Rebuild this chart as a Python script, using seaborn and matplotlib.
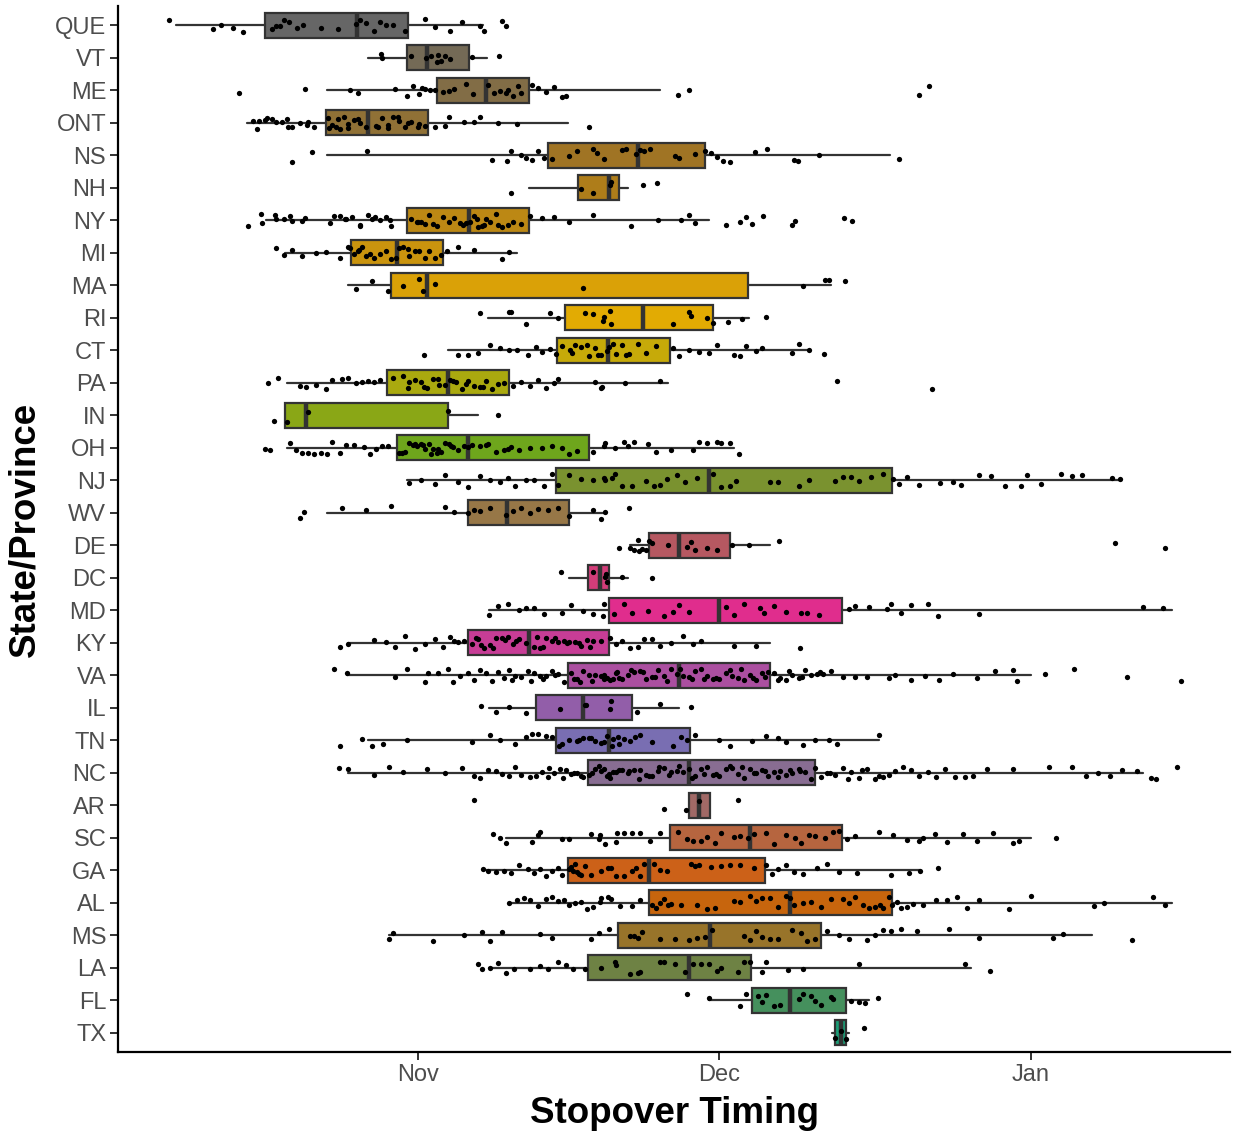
import numpy as np
import pandas as pd
import matplotlib
matplotlib.use("Agg")
import matplotlib.pyplot as plt
from matplotlib.colors import LinearSegmentedColormap
import seaborn as sns

# ---------------- data (days relative to 1 Nov) ----------------
STATES = ["QUE", "VT", "ME", "ONT", "NS", "NH", "NY", "MI", "MA", "RI", "CT", "PA",
          "IN", "OH", "NJ", "WV", "DE", "DC", "MD", "KY", "VA", "IL", "TN", "NC",
          "AR", "SC", "GA", "AL", "MS", "LA", "FL", "TX"]

WHISKER_LOW = [-24.1, -5.0, -9.1, -17.0, -9.1, 11.0, -15.1, -13.2, -7.0, 7.0, 3.0, -13.0,
               -13.2, -13.0, -1.1, -9.1, 21.1, 15.0, 7.1, -7.0, -7.1, 7.1, -5.0, -7.0,
               27.0, 8.8, 6.8, 9.1, -2.9, 7.1, 29.0, 41.2]
Q1 = [-15.2, -1.1, 1.9, -9.2, 12.9, 15.9, -1.1, -6.7, -2.7, 14.6, 13.8, -3.1,
      -13.2, -2.1, 13.7, 5.0, 23.0, 16.9, 19.0, 5.0, 14.9, 11.7, 13.7, 16.9,
      27.0, 25.1, 14.9, 23.0, 19.9, 16.9, 33.2, 41.5]
MEDIAN = [-6.1, 0.9, 6.8, -5.0, 21.9, 19.0, 5.1, -2.1, 0.9, 22.4, 18.9, 3.0,
          -11.1, 5.0, 29.0, 8.9, 26.0, 18.1, 30.0, 11.0, 26.0, 16.4, 19.0, 27.0,
          28.0, 33.0, 23.0, 37.0, 29.1, 27.0, 37.0, 42.1]
Q3 = [-1.0, 5.1, 11.0, 1.0, 28.6, 20.0, 11.0, 2.5, 32.8, 29.4, 25.1, 9.1,
      3.0, 17.0, 47.2, 15.0, 31.0, 19.0, 42.2, 19.0, 35.0, 21.3, 27.1, 39.5,
      29.1, 42.2, 34.5, 47.2, 40.1, 33.1, 42.6, 42.6]
WHISKER_HIGH = [6.5, 6.9, 24.1, 14.9, 47.0, 20.9, 29.0, 9.9, 41.1, 32.9, 39.0, 24.9,
                6.0, 31.4, 69.9, 18.6, 35.0, 20.9, 75.0, 35.0, 61.0, 26.0, 45.9, 72.1,
                29.1, 61.0, 50.0, 75.0, 67.1, 55.0, 44.9, 42.9]

QUE = [-24.8, -20.4, -19.6, -18.4, -17.4, -14.1, -13.7, -13.3, -12.8, -11.4, -9.7, -8.0, -6.2,
       -5.8, -5.2, -4.4, -3.8, -3.2, -1.3, 0.7, 1.7, 3.2, 4.4, 6.2, 6.6, 8.4, 8.8, -14.5, -12.0, -2.5]
VT = [-3.7, -3.6, -0.7, 0.8, 1.3, 1.9, 2.3, 2.7, 3.2, 2.0, 5.4, 8.1]
ME = [-17.8, -11.2, -6.8, -6.0, -2.3, -1.1, -0.5, 0.1, 0.7, 1.7, 2.5, 3.1, 3.6, 4.8, 7.0, 7.6, 8.2,
      8.8, 9.5, 10.3, 11.3, 11.9, 12.7, 13.5, 14.3, 14.7, 25.9, 27.0, 49.9, 50.8, 0.4, 1.2, 5.5, 9.0, 10.0]
ONT = [-16.4, -15.8, -15.2, -14.5, -14.1, -13.5, -12.9, -12.5, -11.7, -10.9, -10.3, -8.9, -8.6, -8.2,
       -7.8, -7.4, -7.0, -6.4, -5.8, -5.2, -4.2, -3.6, -3.0, -2.5, -1.9, -1.3, -0.7, 0.1, 0.7, 1.7,
       2.7, 3.1, 4.6, 5.6, 6.2, 8.0, 9.9, 17.0, -16.0, -15.0, -13.0, -11.0, -9.0, -8.0, -7.0, -6.0,
       -4.0, -3.0, -2.0, -1.0, 0.0]
NS = [-12.5, -10.5, -5.1, 7.4, 8.9, 9.3, 10.3, 10.7, 11.3, 11.9, 12.5, 13.3, 15.0, 15.8, 17.4, 17.8,
      18.5, 20.3, 20.7, 21.7, 22.1, 22.5, 23.1, 25.6, 26.0, 27.6, 28.6, 29.2, 29.8, 30.4, 31.0, 33.5,
      34.7, 37.4, 37.8, 39.9, 47.9]
NH = [9.3, 16.2, 17.4, 19.2, 19.1, 22.4, 23.8]
NY = [-16.9, -15.6, -15.5, -14.2, -14.1, -13.3, -12.7, -12.5, -11.5, -11.2, -8.8, -8.4, -7.8, -7.3,
      -7.2, -6.6, -5.8, -5.8, -5.0, -4.6, -4.3, -3.8, -3.2, -2.8, -2.7, -0.7, -0.1, 0.3, 0.7, 1.1, 1.5,
      1.9, 3.1, 3.6, 4.2, 4.8, 5.2, 5.6, 6.0, 6.4, 6.8, 7.2, 7.8, 8.4, 9.0, 9.5, 10.3, 11.1, 12.3, 13.5,
      15.0, 17.4, 21.2, 23.9, 26.2, 27.0, 27.6, 30.6, 32.0, 32.6, 33.2, 34.3, 37.2, 37.5, 42.4, 43.2,
      0.0, 2.5, 4.5, 5.9, 6.6, 8.0]
MI = [-14.1, -13.3, -12.5, -11.5, -10.1, -9.2, -7.8, -7.0, -6.4, -6.0, -5.6, -5.2, -4.8, -4.4, -3.8,
      -3.2, -2.7, -1.9, -1.5, -0.9, -0.3, 0.1, 0.7, 1.1, 1.7, 2.3, 2.9, 4.0, 5.6, 8.4, 9.1, -6.8, -5.9,
      -2.2, -1.0]
MA = [-6.2, -4.6, -3.0, -1.5, 0.1, 0.5, 1.7, 16.4, 38.3, 40.5, 40.9, 42.5]
RI = [6.2, 9.1, 9.3, 10.7, 13.1, 13.9, 16.6, 17.4, 18.4, 19.2, 18.5, 19.1, 25.4, 27.0, 27.2, 28.8,
      29.4, 30.8, 32.2, 34.6]
CT = [0.6, 4.0, 5.0, 6.0, 7.2, 8.2, 9.1, 9.9, 10.9, 11.7, 12.3, 13.1, 13.7, 14.3, 15.1, 15.6, 16.2,
      17.0, 17.6, 18.2, 18.8, 19.4, 19.7, 20.3, 20.7, 21.9, 22.7, 23.7, 25.4, 26.0, 27.0, 28.0, 29.0,
      29.8, 31.4, 32.0, 32.6, 33.6, 34.2, 37.2, 37.9, 38.9, 40.4, 15.3, 16.8, 17.9, 19.0, 21.0]
PA = [-14.9, -13.9, -11.7, -11.1, -10.1, -9.2, -8.6, -7.6, -7.0, -6.2, -5.6, -5.0, -4.4, -3.8, -1.5,
      -0.9, -0.3, 0.3, 0.9, 1.5, 2.1, 2.7, 3.2, 3.8, 4.4, 5.0, 5.6, 6.2, 6.8, 7.4, 8.0, 8.6, 9.5, 10.3,
      11.1, 11.9, 12.7, 13.5, 13.9, 17.6, 18.2, 18.3, 20.6, 24.1, 41.7, 51.1, -2.5, -1.0, 0.6, 2.0, 3.5,
      4.8, 6.5]
IN = [-14.3, -13.0, -10.9, 3.0, 8.0]
OH = [-15.2, -14.7, -12.7, -12.1, -11.5, -10.9, -10.3, -9.7, -9.1, -8.6, -7.8, -7.2, -6.4, -5.4, -4.8,
      -4.2, -3.6, -3.0, -1.9, -1.3, -0.9, -0.5, -0.1, 0.3, 0.7, 1.1, 1.5, 1.9, 2.3, 2.7, 3.1, 3.5, 4.0,
      4.6, 5.4, 6.2, 7.0, 7.8, 8.6, 9.3, 10.1, 11.1, 12.3, 13.3, 14.3, 15.0, 15.8, 17.4, 18.6, 19.6,
      18.5, 20.5, 20.9, 21.5, 22.9, 23.7, 25.2, 27.4, 28.0, 28.8, 29.8, 30.2, 31.0, 31.9, -1.6, -0.3,
      0.5, 1.3, 2.0, 3.3, 5.0, 6.8, 9.0]
NJ = [-0.9, 0.3, 1.7, 2.7, 4.0, 5.0, 6.2, 7.2, 8.2, 9.0, 9.7, 10.7, 11.5, 12.5, 13.3, 13.9, 15.0,
      16.2, 17.4, 18.6, 19.6, 18.5, 19.3, 20.3, 21.3, 22.7, 23.5, 24.1, 24.8, 25.8, 26.6, 27.8, 29.4,
      30.2, 31.0, 31.6, 35.0, 35.8, 37.9, 38.9, 41.5, 42.3, 43.1, 43.9, 45.1, 46.3, 47.3, 47.9, 48.7,
      49.9, 51.9, 53.2, 54.0, 55.8, 57.0, 58.4, 60.0, 60.6, 62.0, 64.0, 65.1, 66.1, 69.1, 69.9]
WV = [-11.7, -11.3, -7.6, -5.2, -2.7, 2.7, 3.6, 5.0, 5.6, 6.2, 7.2, 8.8, 9.5, 10.3, 11.1, 11.9, 12.9,
      13.9, 15.0, 17.4, 18.2, 18.6, 21.0]
DE = [20.0, 21.1, 21.5, 21.9, 22.3, 22.7, 23.3, 24.9, 26.8, 27.2, 27.6, 28.8, 29.8, 31.2, 32.9, 35.9,
      69.4, 74.3, 22.0, 23.0]
DC = [14.2, 17.4, 18.6, 18.8, 18.7, 20.3, 23.3]
MD = [7.1, 8.0, 9.0, 10.1, 10.7, 11.5, 12.5, 14.3, 15.2, 16.4, 17.4, 18.4, 18.5, 19.5, 20.5, 21.3,
      22.9, 24.5, 25.4, 26.0, 27.0, 30.6, 31.4, 32.4, 34.0, 34.4, 35.4, 36.6, 38.1, 38.7, 39.9, 42.9,
      43.5, 44.9, 46.7, 47.1, 48.1, 49.1, 50.7, 51.7, 55.8, 72.1, 74.1]
KY = [-7.8, -7.0, -4.4, -3.2, -2.3, -1.3, -0.3, 0.7, 1.7, 2.5, 3.2, 4.0, 5.4, 6.0, 6.6, 7.2, 7.8, 8.4,
      9.0, 9.5, 10.1, 10.7, 11.5, 12.1, 12.7, 13.3, 13.9, 14.5, 15.0, 15.6, 16.2, 16.8, 17.4, 18.2,
      19.1, 19.7, 20.3, 21.1, 21.9, 22.5, 23.3, 24.1, 25.2, 26.4, 27.4, 28.2, 31.4, 33.6, 38.0, 6.3,
      7.5, 8.7, 9.8, 11.8, 12.4, 13.6, 14.8, 16.0, 17.1, 4.6, 5.8, 3.6]
VA = [-8.4, -7.1, -2.3, -1.1, 0.7, 4.2, 5.0, 5.6, 6.2, 6.8, 7.4, 8.0, 8.6, 9.1, 9.7, 10.3, 10.9, 11.5,
      12.1, 12.7, 13.3, 13.9, 14.5, 15.2, 15.8, 16.4, 17.0, 17.6, 18.2, 18.8, 19.4, 20.0, 18.5, 19.1,
      19.7, 20.3, 20.9, 21.5, 22.1, 22.7, 23.3, 23.9, 24.5, 25.2, 25.8, 26.4, 27.0, 27.6, 28.2, 28.8,
      29.4, 30.0, 30.6, 31.2, 31.8, 32.4, 33.0, 33.6, 34.2, 34.8, 35.4, 36.0, 36.6, 37.2, 37.9, 38.5,
      39.1, 39.7, 40.3, 41.1, 42.3, 43.5, 44.7, 46.9, 47.5, 49.1, 50.5, 51.8, 53.2, 55.6, 57.4, 59.2,
      59.6, 62.4, 65.3, 70.6, 75.9, 15.5, 16.1, 17.3, 18.5, 19.8, 21.2, 22.4, 23.6, 24.8, 26.1, 27.3,
      28.5, 29.7, 31.0, 32.1, 33.3, 34.5, 1.0, 2.0, 3.0, 3.5, 9.4, 11.2, 12.4, 13.6, 35.8, 36.9, 38.2,
      40.0]
IL = [6.3, 7.8, 9.1, 10.7, 14.1, 16.6, 16.7, 19.2, 19.1, 21.8, 24.1, 27.2]
TN = [-7.8, -5.6, -4.6, -3.5, -1.1, 5.4, 7.2, 8.2, 9.7, 10.7, 11.3, 11.9, 12.7, 13.3, 14.3, 15.0,
      15.8, 16.4, 17.0, 17.6, 18.2, 18.8, 19.4, 18.5, 19.3, 19.9, 20.5, 21.1, 22.1, 23.3, 25.4, 26.2,
      26.8, 27.6, 30.0, 31.0, 33.2, 34.6, 35.8, 36.6, 38.3, 39.5, 40.9, 41.7, 45.9, 14.0, 16.0, 17.2,
      20.0, 21.6]
NC = [-7.9, -7.0, -4.4, -2.9, -1.5, 0.9, 2.7, 4.4, 5.6, 6.2, 7.0, 7.8, 8.4, 9.1, 9.7, 10.3, 11.1,
      11.7, 12.3, 12.9, 13.5, 14.1, 14.7, 15.2, 15.8, 16.4, 17.0, 17.6, 18.2, 18.8, 19.4, 18.5, 19.1,
      19.7, 20.3, 20.9, 21.5, 22.1, 22.7, 23.3, 23.9, 24.5, 25.2, 25.8, 26.4, 27.0, 27.6, 28.2, 28.8,
      29.4, 30.0, 30.6, 31.2, 31.8, 32.4, 33.0, 33.6, 34.2, 34.8, 35.4, 36.0, 36.6, 37.2, 37.9, 38.5,
      39.1, 40.1, 40.7, 41.5, 42.3, 43.1, 43.9, 44.7, 45.5, 46.3, 46.9, 47.5, 48.3, 49.1, 49.9, 50.7,
      51.5, 52.4, 53.4, 54.4, 55.2, 56.6, 59.2, 62.8, 65.1, 66.5, 67.7, 68.9, 70.1, 71.5, 72.9, 73.4,
      75.5, 16.2, 17.3, 18.0, 19.0, 20.0, 21.0, 22.0, 23.0, 24.0, 25.0, 26.0, 27.3, 28.5, 29.7, 31.0,
      32.2, 33.4, 34.5, 35.8, 37.0, 38.0, 39.5, 41.0, 42.8, 44.2, 45.9, 13.0, 14.4, 15.5]
AR = [5.6, 24.5, 26.7, 28.0, 31.8]
SC = [7.5, 8.2, 8.8, 11.3, 11.9, 12.1, 14.3, 15.0, 17.2, 18.0, 18.6, 19.8, 18.1, 19.7, 20.5, 21.3,
      22.1, 23.1, 24.1, 25.9, 26.8, 27.4, 28.2, 28.8, 29.6, 30.2, 31.4, 32.0, 32.8, 33.4, 34.6, 35.4,
      36.6, 37.5, 38.1, 38.9, 39.5, 40.5, 41.3, 41.9, 42.7, 43.5, 45.9, 47.3, 48.7, 49.9, 50.3, 51.4,
      52.6, 54.2, 55.6, 57.2, 59.2, 59.8, 63.5]
GA = [6.5, 7.0, 7.8, 8.6, 9.3, 10.1, 10.9, 11.5, 12.1, 12.7, 13.3, 13.9, 14.3, 15.0, 15.4, 15.8, 16.2,
      16.6, 17.2, 18.2, 19.2, 18.9, 19.7, 20.5, 21.3, 21.7, 22.1, 22.5, 23.5, 24.1, 24.8, 27.2, 27.6,
      28.0, 29.2, 30.2, 31.0, 32.0, 33.4, 34.6, 35.2, 35.8, 36.6, 37.4, 38.3, 39.7, 40.7, 41.9, 43.7,
      47.1, 48.9, 50.0, 51.7, 15.2, 15.6, 16.0]
AL = [9.1, 9.9, 10.5, 11.1, 11.9, 12.7, 13.3, 13.9, 14.5, 15.0, 15.6, 16.2, 16.8, 17.4, 18.2, 19.2,
      18.1, 18.9, 20.1, 21.3, 22.1, 23.7, 24.1, 24.5, 25.2, 26.2, 27.8, 28.8, 29.6, 31.4, 32.0, 33.0,
      33.6, 34.2, 35.0, 35.8, 36.6, 37.0, 37.4, 38.3, 39.1, 40.1, 41.1, 42.3, 42.9, 43.5, 44.3, 44.9,
      45.5, 46.3, 46.9, 47.7, 48.1, 48.7, 49.3, 50.3, 51.5, 52.6, 53.6, 54.6, 55.8, 58.8, 61.0, 67.3,
      68.3, 73.1, 74.3, 23.3, 24.9, 46.0, 47.2]
MS = [-2.9, -2.5, 1.5, 4.6, 6.4, 7.2, 8.4, 12.1, 13.3, 17.2, 18.0, 19.0, 21.1, 21.5, 21.9, 22.3, 24.1,
      25.6, 27.0, 27.8, 28.6, 32.4, 33.0, 33.6, 34.2, 35.0, 35.8, 37.2, 38.1, 38.7, 39.5, 40.7, 41.9,
      42.9, 44.7, 45.5, 46.3, 47.1, 48.1, 49.7, 52.8, 55.8, 63.2, 64.2, 71.0, 29.3]
LA = [6.0, 6.4, 7.2, 8.0, 8.8, 9.6, 11.1, 12.1, 12.9, 13.9, 14.7, 15.4, 16.6, 18.2, 19.6, 19.7, 21.1,
      21.9, 22.1, 24.1, 24.5, 25.6, 26.6, 27.4, 28.2, 29.0, 29.8, 30.2, 31.8, 32.4, 33.0, 34.2, 34.6,
      36.8, 38.3, 43.9, 54.4, 56.9]
FL = [26.8, 32.0, 32.6, 33.8, 34.2, 34.6, 35.4, 37.9, 38.3, 39.1, 39.5, 40.1, 41.1, 41.3, 43.1, 43.9,
      44.5, 45.8, 29.0, 36.0]
TX = [41.5, 42.1, 42.6, 44.4]

POINTS = [QUE, VT, ME, ONT, NS, NH, NY, MI, MA, RI, CT, PA, IN, OH, NJ, WV, DE, DC, MD, KY, VA, IL,
          TN, NC, AR, SC, GA, AL, MS, LA, FL, TX]

TICK_DAYS = [0, 30, 61]
TICK_LABELS = ["Nov", "Dec", "Jan"]

# ---------------- style ----------------
sns.set_style("ticks")
plt.rcParams["font.family"] = ["Liberation Sans", "DejaVu Sans"]

DARK2 = ["#1B9E77", "#D95F02", "#7570B3", "#E7298A", "#66A61E", "#E6AB02", "#A6761D", "#666666"]
ramp = LinearSegmentedColormap.from_list("dark2ramp", DARK2)
n = len(STATES)
fill_colors = [ramp((n - 1 - j) / (n - 1)) for j in range(n)]

df = pd.DataFrame({
    "state": np.repeat(STATES, [len(p) for p in POINTS]),
    "day": np.concatenate([np.asarray(p, float) for p in POINTS]),
})

fig = plt.figure(figsize=(12.35, 11.41), dpi=100)
ax = fig.add_axes([118 / 1235, 1 - 1052 / 1141, (1230 - 118) / 1235, (1052 - 6) / 1141])

np.random.seed(7)
sns.stripplot(data=df, x="day", y="state", order=STATES, orient="h", jitter=0.2,
              color="black", size=3.8, linewidth=0, ax=ax, zorder=5)

stats = []
for j, s in enumerate(STATES):
    stats.append(dict(label=s, whislo=WHISKER_LOW[j], q1=Q1[j], med=MEDIAN[j],
                      q3=Q3[j], whishi=WHISKER_HIGH[j]))

edge = "#333333"
bkw = dict(positions=list(range(n)), widths=0.77, patch_artist=True, showfliers=False,
           showcaps=False, manage_ticks=False,
           boxprops=dict(edgecolor=edge, linewidth=1.6),
           whiskerprops=dict(color=edge, linewidth=1.6),
           medianprops=dict(color=edge, linewidth=3.2, solid_capstyle="butt"),
           zorder=2)
try:
    art = ax.bxp(stats, orientation="horizontal", **bkw)
except TypeError:
    art = ax.bxp(stats, vert=False, **bkw)
for patch, c in zip(art["boxes"], fill_colors):
    patch.set_facecolor(c)

ax.set_xlim(-29.85, 80.8)
ax.set_ylim(n - 1 + 0.6, -0.6)
ax.set_yticks(range(n))
ax.set_yticklabels(STATES)
ax.set_xticks(TICK_DAYS)
ax.set_xticklabels(TICK_LABELS)

for side in ["top", "right"]:
    ax.spines[side].set_visible(False)
for side in ["left", "bottom"]:
    ax.spines[side].set_color("black")
    ax.spines[side].set_linewidth(1.6)
ax.tick_params(axis="both", colors="#333333", length=5.5, width=1.4, labelsize=17,
               labelcolor="#4D4D4D", pad=3)
ax.grid(False)

ax.set_xlabel("Stopover Timing", fontsize=26.5, fontweight="bold", color="black", labelpad=7)
ax.set_ylabel("State/Province", fontsize=26.5, fontweight="bold", color="black", labelpad=9)

fig.savefig("out.png", dpi=100)
